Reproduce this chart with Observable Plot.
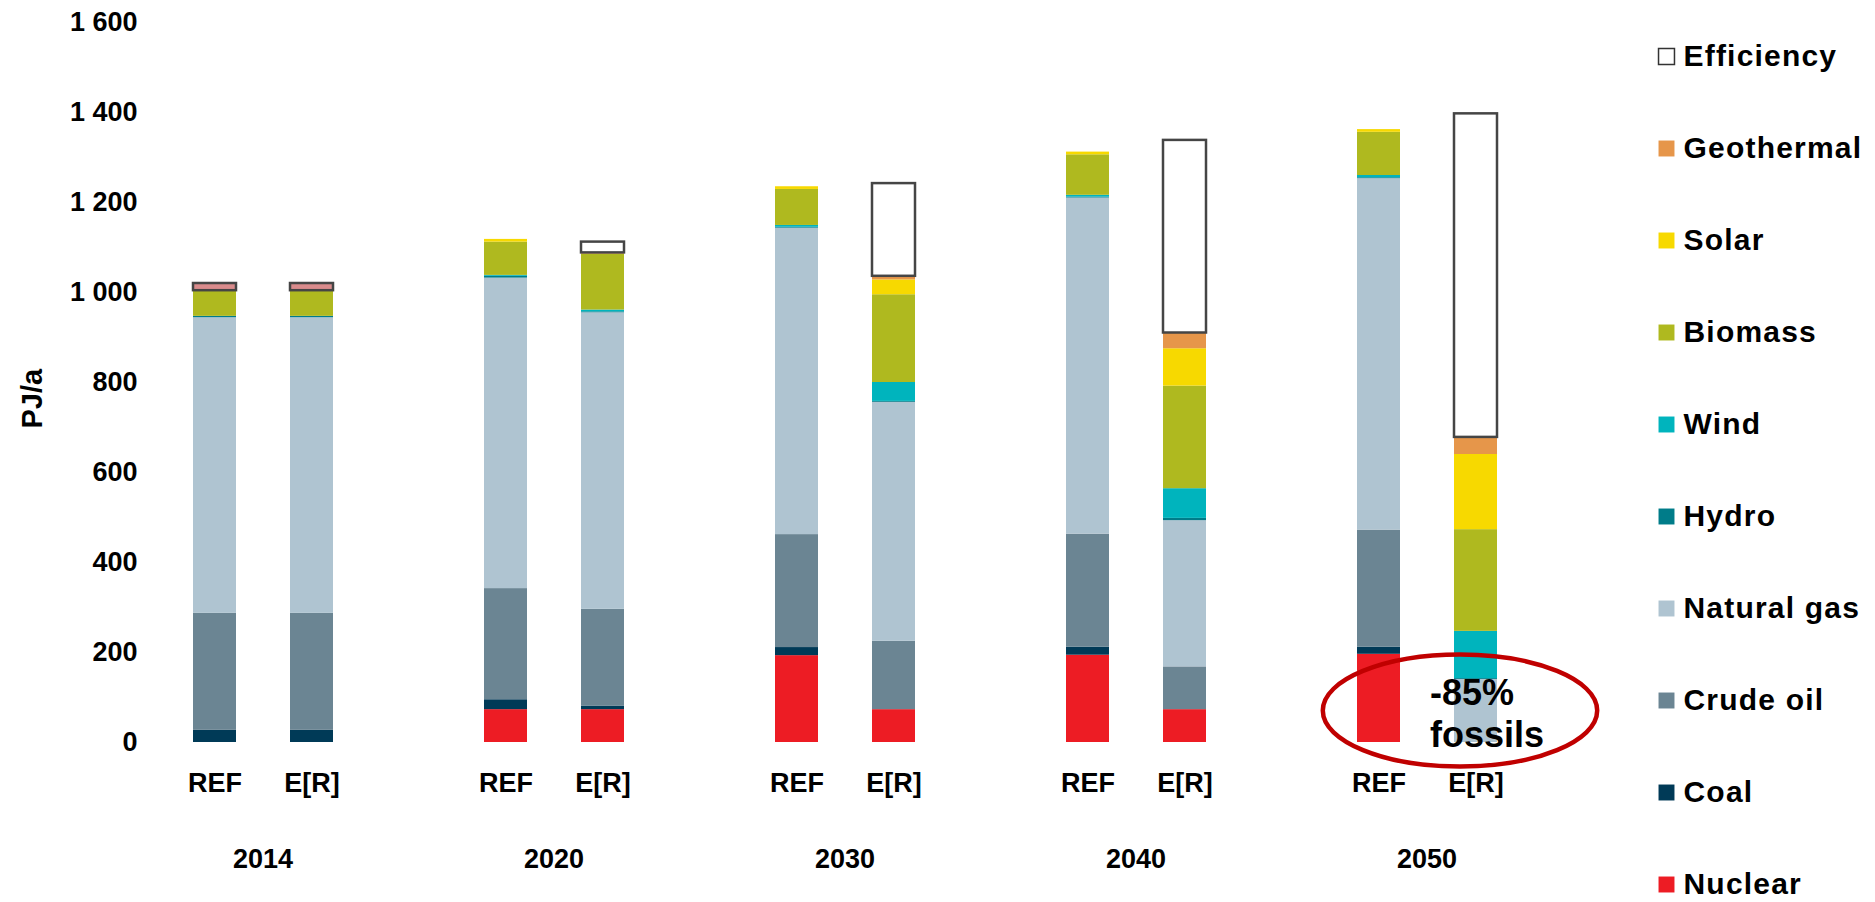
<!DOCTYPE html>
<html>
<head>
<meta charset="utf-8">
<script src="https://cdn.jsdelivr.net/npm/d3@7"></script>
<script src="https://cdn.jsdelivr.net/npm/@observablehq/plot@0.6"></script>
<style>
  body { margin: 0; background: #fff; }
  #wrap { display: flex; width: 1875px; height: 902px; overflow: hidden; }
</style>
</head>
<body>
<div id="wrap"></div>
<script>
// ---------- data ----------
const years = ["2014", "2020", "2030", "2040", "2050"];
const scenarios = ["REF", "E[R]"];
const series = ["Nuclear", "Coal", "Crude oil", "Natural gas", "Hydro", "Wind", "Biomass", "Solar", "Geothermal", "Efficiency"];
const colors = ["#ed1c24", "#003a57", "#6b8593", "#afc4d1", "#007c89", "#00b4bd", "#afb91f", "#f7d900", "#e6964a", "#ffffff"];

// bar order: 2014 REF, 2014 E[R], 2020 REF, 2020 E[R], 2030 REF, 2030 E[R], 2040 REF, 2040 E[R], 2050 REF, 2050 E[R]
const nuclear    = [0, 0, 73, 73, 193, 73, 194, 73, 196, 0];
const coal       = [27, 27, 22, 8, 18, 0, 18, 0, 16, 0];
const crudeOil   = [260, 260, 247, 215, 251, 152, 251, 95, 260, 0];
const naturalGas = [657, 657, 690, 659, 681, 531, 747, 325, 781, 140];
const hydro      = [3, 3, 4, 2, 2, 2, 2, 5, 2, 2];
const wind       = [0, 0, 2, 4, 4, 42, 4, 66, 5, 105];
const biomass    = [57, 57, 74, 124, 80, 195, 90, 228, 96, 226];
const solar      = [0, 0, 6, 0, 6, 33, 6, 83, 6, 167];
const geothermal = [0, 0, 0, 3, 0, 8, 0, 35, 0, 38];
const efficiency = [16, 16, 0, 24, 0, 206, 0, 428, 0, 719];

const yTicks = [0, 200, 400, 600, 800, 1000, 1200, 1400, 1600];
const yTickLabels = ["0", "200", "400", "600", "800", "1 000", "1 200", "1 400", "1 600"];
const yLabel = "PJ/a";
const yLabelValue = 764;

const noteYear = ["2050"];
const noteScenario = ["E[R]"];
const noteRingValue = [71];
const noteTextValue = [67];
const noteText = ["-85%\nfossils"];

// ---------- build table ----------
const valuesBySeries = [nuclear, coal, crudeOil, naturalGas, hydro, wind, biomass, solar, geothermal, efficiency];
const bars = years.flatMap(y => scenarios.map(s => ({year: y, scenario: s})));
const rows = [];
bars.forEach((b, i) => {
  series.forEach((s, j) => {
    const v = valuesBySeries[j][i];
    if (v > 0) rows.push({
      year: b.year, scenario: b.scenario, series: s, value: v,
      key: (s === "Efficiency" && b.year === "2014") ? "Efficiency 2014" : s
    });
  });
});
const colorDomain = [...series, "Efficiency 2014"];
const colorRange = [...colors, "#d98b8c"];

const notes = noteYear.map((y, i) => ({
  year: y, scenario: noteScenario[i], ring: noteRingValue[i], tv: noteTextValue[i], label: noteText[i]
}));
const yLabelData = [{year: years[0], v: yLabelValue, t: yLabel}];

// ellipse symbol (ry = r, rx = 2.45 r)
const ellipse = {
  draw(ctx, size) {
    const ry = Math.sqrt(size / Math.PI), rx = ry * 2.45, k = 0.5523;
    ctx.moveTo(rx, 0);
    ctx.bezierCurveTo(rx, ry * k, rx * k, ry, 0, ry);
    ctx.bezierCurveTo(-rx * k, ry, -rx, ry * k, -rx, 0);
    ctx.bezierCurveTo(-rx, -ry * k, -rx * k, -ry, 0, -ry);
    ctx.bezierCurveTo(rx * k, -ry, rx, -ry * k, rx, 0);
    ctx.closePath();
  }
};

const font = "'Liberation Sans', Arial, sans-serif";

const chart = Plot.plot({
  width: 1640,
  height: 902,
  marginLeft: 140,
  marginRight: 92,
  marginTop: 22,
  marginBottom: 160,
  style: {fontFamily: font, fontWeight: "bold", fontSize: "27px", color: "#000", background: "#fff", overflow: "visible"},
  fx: {domain: years, paddingInner: 0.3856, paddingOuter: 0.112},
  x: {domain: scenarios, paddingInner: 0.557, paddingOuter: 0.2},
  y: {domain: [0, 1600]},
  color: {domain: colorDomain, range: colorRange},
  marks: [
    Plot.barY(rows, Plot.stackY({
      fx: "year", x: "scenario", y: "value", z: "series", fill: "key",
      stroke: "#454545", strokeWidth: d => d.series === "Efficiency" ? 2.5 : 0
    })),
    Plot.dot(notes, {
      fx: "year", x: "scenario", y: "ring", symbol: ellipse, r: 56,
      stroke: "#c00000", strokeWidth: 4.5, fill: "none", dx: -16
    }),
    Plot.text(notes, {
      fx: "year", x: "scenario", y: "tv", text: "label", textAnchor: "start", lineAnchor: "middle",
      dx: -46, fontSize: 36, fontWeight: "bold", lineHeight: 1.17, fill: "#000"
    }),
    Plot.text(yLabelData, {
      fx: "year", y: "v", text: "t", frameAnchor: "left", rotate: -90, textAnchor: "middle",
      dx: -141, fontSize: 29, fontWeight: "bold", fill: "#000"
    }),
    Plot.axisY({
      ticks: yTicks, tickFormat: d => yTickLabels[yTicks.indexOf(d)], tickSize: 0, tickPadding: 36,
      label: null
    }),
    Plot.axisX({tickSize: 0, tickPadding: 30, label: null}),
    Plot.axisFx({anchor: "bottom", tickSize: 0, tickPadding: 106, label: null})
  ]
});

// legend (drawn through its own Plot scales)
const legendOrder = series.slice().reverse();
const legend = Plot.plot({
  width: 235,
  height: 902,
  marginLeft: 26, marginRight: 0, marginTop: 0, marginBottom: 0,
  style: {fontFamily: font, fontWeight: "bold", fontSize: "30px", letterSpacing: "1.2px", color: "#000", background: "#fff", overflow: "visible"},
  x: {domain: [0, 1], axis: null},
  y: {type: "point", domain: legendOrder, range: [55, 885], padding: 0, axis: null},
  color: {domain: colorDomain, range: colorRange},
  marks: [
    Plot.dot(legendOrder, {
      x: () => 0, y: d => d, symbol: "square", r: 9, fill: d => d,
      stroke: "#333", strokeWidth: d => d === "Efficiency" ? 1.5 : 0
    }),
    Plot.text(legendOrder, {
      x: () => 0, y: d => d, text: d => d, textAnchor: "start", dx: 17, fill: "#000"
    })
  ]
});

const wrap = document.getElementById("wrap");
wrap.appendChild(chart);
wrap.appendChild(legend);
</script>
</body>
</html>
